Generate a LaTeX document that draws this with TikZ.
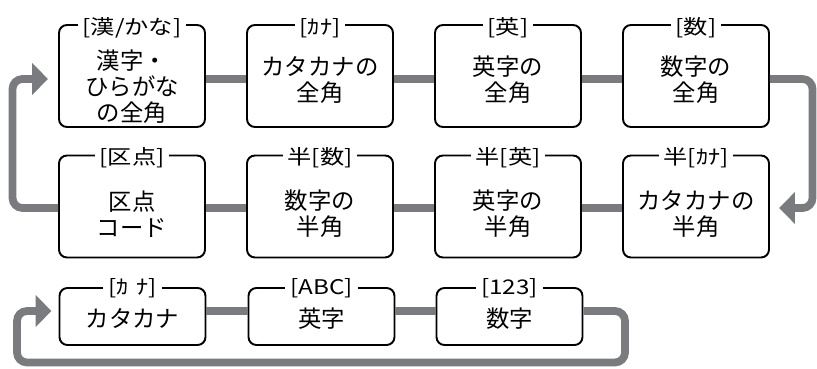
\documentclass[tikz,border=0pt]{standalone}
\usepackage{fontspec}
\setmainfont{Noto Sans CJK JP}
\newfontfamily\tagfont{Noto Sans CJK JP}[FakeStretch=1.2]
\usepackage{tikz}
\usetikzlibrary{arrows.meta}
\definecolor{bargray}{RGB}{122,123,127}

\begin{document}
\begin{tikzpicture}[
    box/.style={draw, line width=1.1pt, rounded corners=0.16cm, minimum width=2.92cm, minimum height=2.04cm},
    lowbox/.style={box, minimum height=1.14cm},
    tag/.style={fill=white, anchor=base, inner xsep=0.1cm, inner ysep=0.03cm, font=\tagfont\fontsize{11.5}{12}\selectfont},
    txt/.style={align=center, inner sep=0pt, font=\fontsize{13.3}{14.8}\selectfont},
    bar/.style={draw=bargray, line width=0.155cm, rounded corners=0.2cm},
    tip/.style={-{Triangle[width=0.62cm, length=0.32cm]}}]
    \useasboundingbox (0,0) rectangle (16.34,7.36);
    % full-width row
    \node[box] (zkanji) at (2.64,5.84) {};
    \node[box] (zkana) at (6.40,5.84) {};
    \node[box] (zeiji) at (10.16,5.84) {};
    \node[box] (zsuji) at (13.92,5.84) {};
    % half-width row
    \node[box] (kuten) at (2.64,3.23) {};
    \node[box] (hsuji) at (6.40,3.23) {};
    \node[box] (heiji) at (10.16,3.23) {};
    \node[box] (hkana) at (13.92,3.23) {};
    % lower row
    \node[lowbox] (katakana) at (2.65,1.03) {};
    \node[lowbox] (eiji) at (6.43,1.03) {};
    \node[lowbox] (suji) at (10.19,1.03) {};

    \node[tag] (zkanji-l) at ([yshift=-0.2cm]zkanji.north) {[漢/かな]};
    \node[tag] (zkana-l) at ([yshift=-0.2cm]zkana.north) {[ｶﾅ]};
    \node[tag] (zeiji-l) at ([yshift=-0.2cm]zeiji.north) {[英]};
    \node[tag] (zsuji-l) at ([yshift=-0.2cm]zsuji.north) {[数]};
    \node[tag] (kuten-l) at ([yshift=-0.2cm]kuten.north) {[区点]};
    \node[tag] (hsuji-l) at ([yshift=-0.2cm]hsuji.north) {半[数]};
    \node[tag] (heiji-l) at ([yshift=-0.2cm]heiji.north) {半[英]};
    \node[tag] (hkana-l) at ([yshift=-0.2cm]hkana.north) {半[ｶﾅ]};
    \node[tag] (katakana-l) at ([yshift=-0.14cm]katakana.north) {[ｶ\hspace{0.4em}ﾅ]};
    \node[tag] (eiji-l) at ([yshift=-0.14cm]eiji.north) {[ABC]};
    \node[tag] (suji-l) at ([yshift=-0.14cm]suji.north) {[123]};

    \node[txt] (zkanji-t) at ([yshift=-0.22cm]zkanji.center) {漢字・\\ひらがな\\の全角};
    \node[txt] (zkana-t) at ([yshift=-0.08cm]zkana.center) {カタカナの\\全角};
    \node[txt] (zeiji-t) at ([yshift=-0.08cm]zeiji.center) {英字の\\全角};
    \node[txt] (zsuji-t) at ([yshift=-0.08cm]zsuji.center) {数字の\\全角};
    \node[txt] (kuten-t) at ([yshift=-0.15cm]kuten.center) {区点\\コード};
    \node[txt] (hsuji-t) at ([yshift=-0.15cm]hsuji.center) {数字の\\半角};
    \node[txt] (heiji-t) at ([yshift=-0.15cm]heiji.center) {英字の\\半角};
    \node[txt] (hkana-t) at ([yshift=-0.15cm]hkana.center) {カタカナの\\半角};
    \node[txt] (katakana-t) at ([yshift=-0.05cm]katakana.center) {カタカナ};
    \node[txt] (eiji-t) at ([yshift=-0.05cm]eiji.center) {英字};
    \node[txt] (suji-t) at ([yshift=-0.05cm]suji.center) {数字};

    \coordinate (rturn) at (16.25,3.20);
    \coordinate (lturn) at (0.25,5.78);
    \coordinate (bturn) at (12.50,0.11);
    \coordinate (cturn) at (0.34,1.14);

    \draw[bar] ([yshift=-0.06cm]zkanji.east) -- ([yshift=-0.06cm]zkana.west);
    \draw[bar] ([yshift=-0.06cm]zkana.east) -- ([yshift=-0.06cm]zeiji.west);
    \draw[bar] ([yshift=-0.06cm]zeiji.east) -- ([yshift=-0.06cm]zsuji.west);
    \draw[bar, tip] ([yshift=-0.06cm]zsuji.east) -| (rturn) -- ([xshift=0.18cm, yshift=-0.03cm]hkana.east);
    \draw[bar] ([yshift=-0.03cm]hkana.west) -- ([yshift=-0.03cm]heiji.east);
    \draw[bar] ([yshift=-0.03cm]heiji.west) -- ([yshift=-0.03cm]hsuji.east);
    \draw[bar] ([yshift=-0.03cm]hsuji.west) -- ([yshift=-0.03cm]kuten.east);
    \draw[bar, tip] ([yshift=-0.03cm]kuten.west) -| (lturn) -- ([xshift=-0.2cm, yshift=-0.06cm]zkanji.west);
    \draw[bar] ([yshift=0.11cm]katakana.east) -- ([yshift=0.11cm]eiji.west);
    \draw[bar] ([yshift=0.11cm]eiji.east) -- ([yshift=0.11cm]suji.west);
    \draw[bar, tip] ([yshift=0.11cm]suji.east) -| (bturn) -| (cturn) -- ([xshift=-0.14cm, yshift=0.11cm]katakana.west);
\end{tikzpicture}
\end{document}
